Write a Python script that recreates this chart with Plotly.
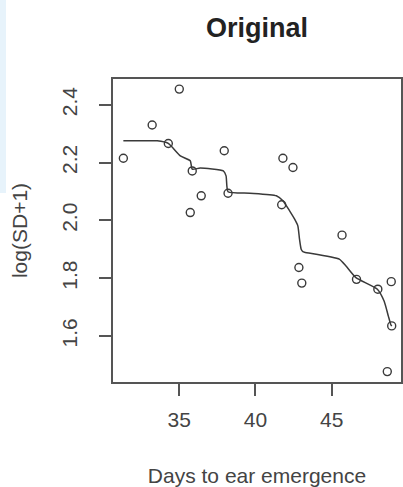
import plotly.graph_objects as go

# observed points
days = [31.33, 33.22, 35.0, 34.28, 35.85, 37.95, 36.44, 35.72, 38.2, 41.8,
        42.46, 41.72, 45.68, 42.85, 43.04, 46.63, 48.03, 48.91, 48.94, 48.65]
log_sd = [2.215, 2.330, 2.454, 2.266, 2.171, 2.241, 2.085, 2.027, 2.094, 2.215,
          2.183, 2.054, 1.949, 1.837, 1.783, 1.796, 1.762, 1.788, 1.635, 1.477]

# fitted curve
fit_x = [31.33, 33.55, 34.28, 35.07, 35.72, 35.85, 36.37, 37.89, 38.07, 38.2,
         39.63, 41.37, 41.8, 42.24, 42.57, 42.78, 42.89, 43.0, 43.11, 43.22,
         45.5, 45.94, 46.59, 48.0, 48.44, 48.72, 48.87, 48.94]
fit_y = [2.275, 2.275, 2.266, 2.223, 2.206, 2.177, 2.181, 2.171, 2.154, 2.099,
         2.094, 2.085, 2.068, 2.033, 2.004, 1.981, 1.935, 1.900, 1.892, 1.890,
         1.866, 1.842, 1.802, 1.762, 1.721, 1.669, 1.641, 1.634]

x_ticks = [35, 40, 45]
y_ticks = [1.6, 1.8, 2.0, 2.2, 2.4]

title_text = "Original"
x_title = "Days to ear emergence"
y_title = "log(SD+1)"

FONT = "Liberation Sans, Arial, sans-serif"
INK = "#3a3a3a"

fig = go.Figure()
fig.add_trace(go.Scatter(x=days, y=log_sd, mode="markers",
                         marker=dict(symbol="circle-open", size=8,
                                     color=INK, line=dict(width=1.4, color=INK)),
                         showlegend=False, hoverinfo="skip"))
fig.add_trace(go.Scatter(x=fit_x, y=fit_y, mode="lines",
                         line=dict(color=INK, width=1.5, shape="spline", smoothing=0.5),
                         showlegend=False, hoverinfo="skip"))

axis_common = dict(showline=True, mirror=True, linecolor="#555555", linewidth=1.6,
                   ticks="outside", ticklen=12, tickwidth=1.5, tickcolor="#555555",
                   showgrid=False, zeroline=False, automargin=False,
                   tickfont=dict(family=FONT, size=21, color="#444444"))

fig.update_layout(
    width=403, height=487,
    margin=dict(l=113, r=2, t=79, b=105),
    paper_bgcolor="white", plot_bgcolor="white",
    title=dict(text="<b>" + title_text + "</b>", x=0.5, xref="paper",
               xanchor="center", y=1 - 28 / 487, yanchor="middle",
               font=dict(family=FONT, size=27, color="#222222")),
    xaxis=dict(range=[30.65, 49.55], tickvals=x_ticks, ticklabelstandoff=6,
               title=dict(text=x_title, standoff=38,
                          font=dict(family=FONT, size=21, color="#444444")),
               **axis_common),
    yaxis=dict(range=[1.441, 2.489], tickvals=y_ticks, tickformat=".1f",
               tickangle=-90, ticklabelstandoff=14,
               title=dict(text=y_title, standoff=24,
                          font=dict(family=FONT, size=21, color="#444444")),
               **axis_common),
    shapes=[dict(type="rect", xref="paper", yref="paper",
                 x0=-0.3924, x1=-0.3715, y0=0.624, y1=1.2607,
                 fillcolor="#e7f3fb", line=dict(width=0), layer="below")],
)

fig.write_html("out.html", config={"displayModeBar": False},
               post_script="document.body.style.margin='0';document.body.style.overflow='hidden';")
